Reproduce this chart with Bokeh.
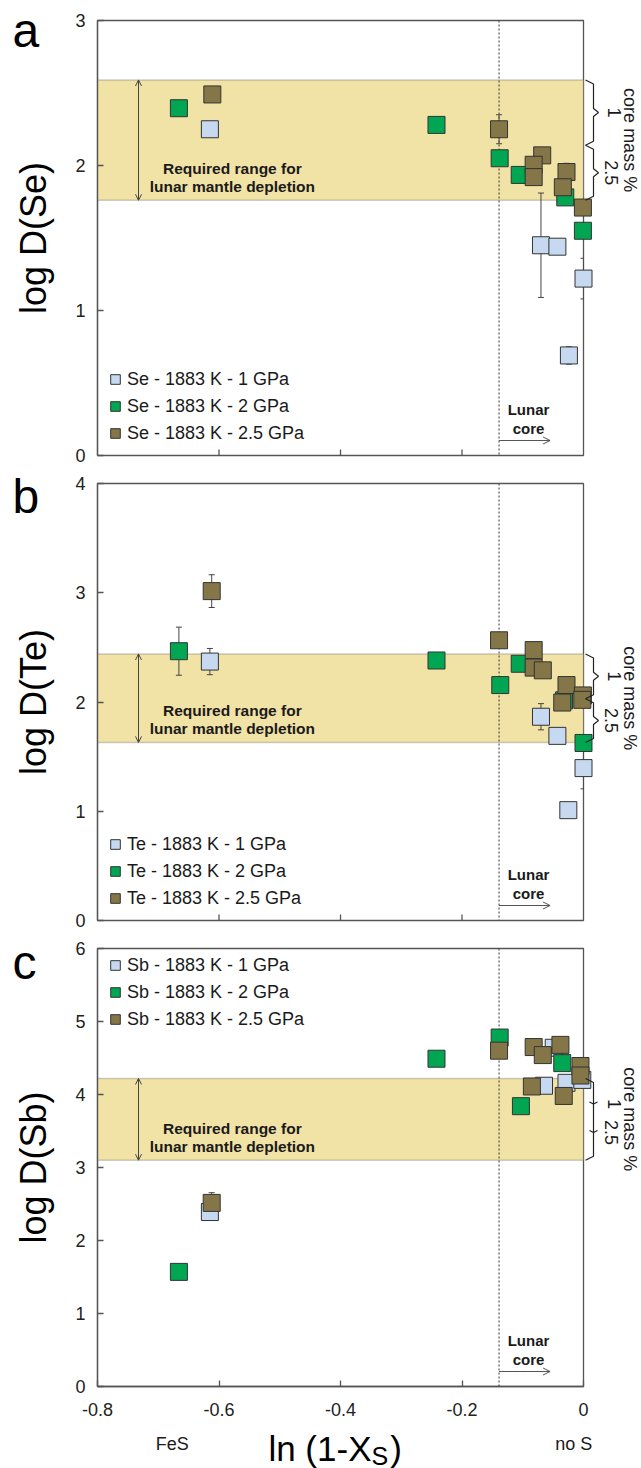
import numpy as np
from bokeh.plotting import figure
from bokeh.layouts import column
from bokeh.models import (ColumnDataSource, BoxAnnotation, Span, Arrow, OpenHead,
                          Whisker, TeeHead, Legend, LegendItem, FixedTicker, Range1d,
                          CustomJSTickFormatter)
from bokeh.core.properties import value
from bokeh.embed import file_html
from bokeh.resources import INLINE

FONT = "Liberation Sans"

# ---------------- data ----------------
x_ticks = [-0.8, -0.6, -0.4, -0.2, 0.0]
lunar_core_x = -0.139
series_names = ["1883 K - 1 GPa", "1883 K - 2 GPa", "1883 K - 2.5 GPa"]

# Panel a : Se
se_1_x = [-0.615, -0.070, -0.043, 0.000, -0.024]
se_1_y = [2.25, 1.45, 1.44, 1.22, 0.69]
se_1_err = [0.0, 0.36, 0.0, 0.14, 0.06]
se_2_x = [-0.666, -0.242, -0.138, -0.105, -0.030, -0.001]
se_2_y = [2.395, 2.28, 2.05, 1.935, 1.78, 1.55]
se_2_err = [0.0, 0.0, 0.0, 0.0, 0.0, 0.0]
se_25_x = [-0.611, -0.139, -0.068, -0.082, -0.082, -0.028, -0.034, -0.001]
se_25_y = [2.49, 2.25, 2.07, 2.005, 1.92, 1.955, 1.85, 1.71]
se_25_err = [0.0, 0.10, 0.0, 0.0, 0.0, 0.06, 0.0, 0.05]
se_band = [1.76, 2.59]
se_core_mass = [2.59, 2.14, 1.76]        # brace limits (1 %, 2.5 %)
se_yticks = [0, 1, 2, 3]

# Panel b : Te
te_1_x = [-0.615, -0.070, -0.043, 0.000, -0.025]
te_1_y = [2.37, 1.865, 1.69, 1.395, 1.01]
te_1_err = [0.12, 0.12, 0.0, 0.19, 0.0]
te_2_x = [-0.666, -0.242, -0.137, -0.105, -0.032, 0.000]
te_2_y = [2.465, 2.38, 2.155, 2.35, 2.015, 1.625]
te_2_err = [0.22, 0.0, 0.0, 0.0, 0.0, 0.0]
te_25_x = [-0.612, -0.139, -0.082, -0.082, -0.067, -0.028, -0.035, -0.001, -0.002]
te_25_y = [3.015, 2.565, 2.475, 2.315, 2.29, 2.155, 1.995, 2.06, 2.02]
te_25_err = [0.15, 0.06, 0.0, 0.0, 0.0, 0.0, 0.0, 0.0, 0.0]
te_band = [1.63, 2.44]
te_core_mass = [2.44, 2.03, 1.63]
te_yticks = [0, 1, 2, 3, 4]

# Panel c : Sb
sb_1_x = [-0.615, -0.065, -0.049, -0.028, -0.002]
sb_1_y = [2.39, 4.12, 4.64, 4.16, 4.20]
sb_1_err = [0.08, 0.0, 0.0, 0.0, 0.0]
sb_2_x = [-0.666, -0.242, -0.138, -0.103, -0.035]
sb_2_y = [1.57, 4.49, 4.78, 3.84, 4.43]
sb_2_err = [0.0, 0.0, 0.0, 0.08, 0.0]
sb_25_x = [-0.612, -0.139, -0.082, -0.067, -0.085, -0.038, -0.0325, -0.005, -0.005]
sb_25_y = [2.515, 4.60, 4.65, 4.54, 4.11, 4.68, 3.98, 4.39, 4.26]
sb_25_err = [0.14, 0.0, 0.0, 0.0, 0.0, 0.0, 0.0, 0.0, 0.0]
sb_band = [3.10, 4.22]
sb_core_mass = [4.22, 3.10]
sb_core_mass_marks = [3.87, 3.48]         # 1 %, 2.5 %
sb_yticks = [0, 1, 2, 3, 4, 5, 6]

# ---------------- style ----------------
COLORS = ["#C6D9F0", "#00A651", "#857647"]
EDGE = "#333333"
BAND = "#F1E2A6"
AX = "#555555"
FRAME_W = 641 - 97 - 58
PPU_X = FRAME_W / 0.8


def txt(p, x, y, s, size, align="center", bold=False, angle=0.0, color="#1a1a1a"):
    p.text(x=[x], y=[y], text=[s], text_font=value(FONT), text_font_size=value(size),
           text_font_style=value("bold" if bold else "normal"), text_align=align,
           text_baseline="middle", angle=angle, text_color=color, level="overlay")


def make_panel(letter, letter_dy, element, ylabel, yticks, series, band, core_mass, marks,
               height, b_top, b_bottom, legend_top=False, x_labels=False):
    ymax = yticks[-1]
    frame_h = height - b_top - b_bottom
    ppu_y = frame_h / ymax
    p = figure(width=641, height=height, x_range=Range1d(-0.8, 0), y_range=Range1d(0, ymax),
               output_backend="svg", toolbar_location=None,
               x_axis_location="below" if x_labels else None,
               min_border_left=97, min_border_right=58, min_border_top=b_top,
               min_border_bottom=b_bottom)
    p.xgrid.visible = False
    p.ygrid.visible = False
    p.outline_line_color = AX
    p.outline_line_width = 1.3
    p.background_fill_color = "white"
    p.border_fill_color = "white"

    for ax in p.xaxis + p.yaxis:
        ax.axis_line_color = AX
        ax.axis_line_width = 1.3
        ax.major_tick_line_color = AX
        ax.major_tick_line_width = 1.3
        ax.major_tick_in = 6
        ax.major_tick_out = 0
        ax.minor_tick_line_color = None
        ax.major_label_text_font = FONT
        ax.major_label_text_font_size = "18px"
        ax.major_label_text_color = "#222222"

    if x_labels:
        p.xaxis.ticker = FixedTicker(ticks=x_ticks)
        p.xaxis.formatter = CustomJSTickFormatter(
            code="return Math.abs(tick) < 1e-9 ? '0' : tick.toFixed(1);")
        p.xaxis.major_label_standoff = 16
    else:
        # inner tick marks on the bottom edge (axis without labels)
        p.segment(x0=x_ticks[1:-1], y0=[0] * 3, x1=x_ticks[1:-1], y1=[6 / ppu_y] * 3,
                  line_color=AX, line_width=1.3)

    p.yaxis.ticker = FixedTicker(ticks=yticks)
    p.yaxis.major_label_standoff = 12
    p.yaxis.axis_label = ylabel
    p.yaxis.axis_label_text_font = FONT
    p.yaxis.axis_label_text_font_size = "36px"
    p.yaxis.axis_label_text_font_style = "normal"
    p.yaxis.axis_label_text_color = "black"
    p.yaxis.axis_label_standoff = 18

    # required range band
    p.add_layout(BoxAnnotation(bottom=band[0], top=band[1], fill_color=BAND, fill_alpha=1.0,
                               line_color="#5f5f5f", line_width=1.5, level="underlay"))
    # lunar core line
    p.add_layout(Span(location=lunar_core_x, dimension="height", line_color="#333333",
                      line_dash="2 2", line_width=1, level="annotation"))

    # double arrow in band
    xa = -0.7325
    p.add_layout(Arrow(start=OpenHead(size=6, line_color="#444444", line_width=1),
                       end=OpenHead(size=6, line_color="#444444", line_width=1),
                       x_start=xa, y_start=band[0], x_end=xa, y_end=band[1],
                       line_color="#444444", line_width=1))
    txt(p, -0.578, band[0] + 32 / ppu_y, "Required range for", "15.5px", bold=True)
    txt(p, -0.578, band[0] + 14 / ppu_y, "lunar mantle depletion", "15.5px", bold=True)

    # Lunar core label + arrow
    txt(p, -0.0905, 46 / ppu_y, "Lunar", "15px", bold=True)
    txt(p, -0.0905, 27 / ppu_y, "core", "15px", bold=True)
    p.add_layout(Arrow(end=OpenHead(size=7, line_color="#555555", line_width=1),
                       x_start=lunar_core_x, y_start=15 / ppu_y, x_end=-0.055, y_end=15 / ppu_y,
                       line_color="#555555", line_width=1))

    # error bars
    for (xs, ys, errs), color in zip(series, COLORS):
        ex = [x for x, e in zip(xs, errs) if e > 0]
        ey = [y for y, e in zip(ys, errs) if e > 0]
        ee = [e for e in errs if e > 0]
        if ex:
            src = ColumnDataSource(dict(x=ex, upper=[y + e for y, e in zip(ey, ee)],
                                        lower=[y - e for y, e in zip(ey, ee)]))
            p.add_layout(Whisker(source=src, base="x", upper="upper", lower="lower",
                                 line_color="#444444", line_width=1, level="annotation",
                                 upper_head=TeeHead(size=6, line_color="#444444", line_width=1),
                                 lower_head=TeeHead(size=6, line_color="#444444", line_width=1)))
    renderers = []
    for (xs, ys, errs), color in zip(series, COLORS):
        r = p.scatter(xs, ys, marker="square", size=17, fill_color=color, line_color=EDGE,
                      line_width=1, level="overlay")
        renderers.append(r)

    # legend
    items = [LegendItem(label=f"{element} - {nm}", renderers=[r])
             for nm, r in zip(series_names, renderers)]
    leg_h = 3 * 24 + 2 * 3
    loc = (6, frame_h - 5 - leg_h) if legend_top else (6, 10)
    legend = Legend(items=items, location=loc, glyph_width=24, glyph_height=24, spacing=3,
                    padding=0, margin=0, border_line_color=None, background_fill_alpha=0,
                    label_text_font=FONT, label_text_font_size="18px", label_standoff=0,
                    label_height=20, label_text_color="#1a1a1a")
    p.add_layout(legend)

    # core mass braces (outside right of frame)
    bx0, bx1, bx2 = 2 / PPU_X, 10 / PPU_X, 15 / PPU_X
    e = 4 / ppu_y
    if marks is None:
        for hi, lo in zip(core_mass[:-1], core_mass[1:]):
            mid = (hi + lo) / 2
            p.line([bx0, bx1, bx1, bx2, bx1, bx1, bx0],
                   [hi, hi - e, mid + e, mid, mid - e, lo + e, lo],
                   line_color="#222222", line_width=1.2, level="overlay")
        label_y = [(h + l) / 2 for h, l in zip(core_mass[:-1], core_mass[1:])]
    else:
        hi, lo = core_mass
        p.line([bx0, bx1, bx1, bx0], [hi, hi - e, lo + e, lo],
               line_color="#222222", line_width=1.2, level="overlay")
        for m in marks:
            p.line([bx1 - 4 / PPU_X, bx1, bx1 + 4 / PPU_X], [m + e * 0.5, m, m + e * 0.5],
                   line_color="#222222", line_width=1.2, level="overlay")
        label_y = marks
    for s, yy, dx in zip(["1", "2.5"], label_y, [31, 28]):
        txt(p, dx / PPU_X, yy, s, "18px", angle=-np.pi / 2)
    txt(p, 46 / PPU_X, (band[0] + band[1]) / 2, "core mass %", "18px", angle=-np.pi / 2)

    # panel letter
    txt(p, -0.8 - 85 / PPU_X, ymax - letter_dy / ppu_y, letter, "48px", align="left",
        color="black")

    if x_labels:
        txt(p, -0.349, -62 / ppu_y, "ln (1-X", "35px", align="right", color="black")
        txt(p, -0.349, -69 / ppu_y, "S", "25px", align="left", color="black")
        txt(p, -0.318, -62 / ppu_y, ")", "35px", align="left", color="black")
        txt(p, -0.677, -57 / ppu_y, "FeS", "18px")
        txt(p, -0.016, -57 / ppu_y, "no S", "18px")
    return p


pa = make_panel("a", 10, "Se", "log D(Se)", se_yticks,
                [(se_1_x, se_1_y, se_1_err), (se_2_x, se_2_y, se_2_err),
                 (se_25_x, se_25_y, se_25_err)],
                se_band, se_core_mass, None, height=468, b_top=20, b_bottom=13)
pb = make_panel("b", 13, "Te", "log D(Te)", te_yticks,
                [(te_1_x, te_1_y, te_1_err), (te_2_x, te_2_y, te_2_err),
                 (te_25_x, te_25_y, te_25_err)],
                te_band, te_core_mass, None, height=466, b_top=15, b_bottom=14)
pc = make_panel("c", 14, "Sb", "log D(Sb)", sb_yticks,
                [(sb_1_x, sb_1_y, sb_1_err), (sb_2_x, sb_2_y, sb_2_err),
                 (sb_25_x, sb_25_y, sb_25_err)],
                sb_band, sb_core_mass, sb_core_mass_marks, height=534, b_top=14, b_bottom=82,
                legend_top=True, x_labels=True)

layout = column(pa, pb, pc, spacing=0)
with open("out.html", "w") as f:
    f.write(file_html(layout, INLINE))
